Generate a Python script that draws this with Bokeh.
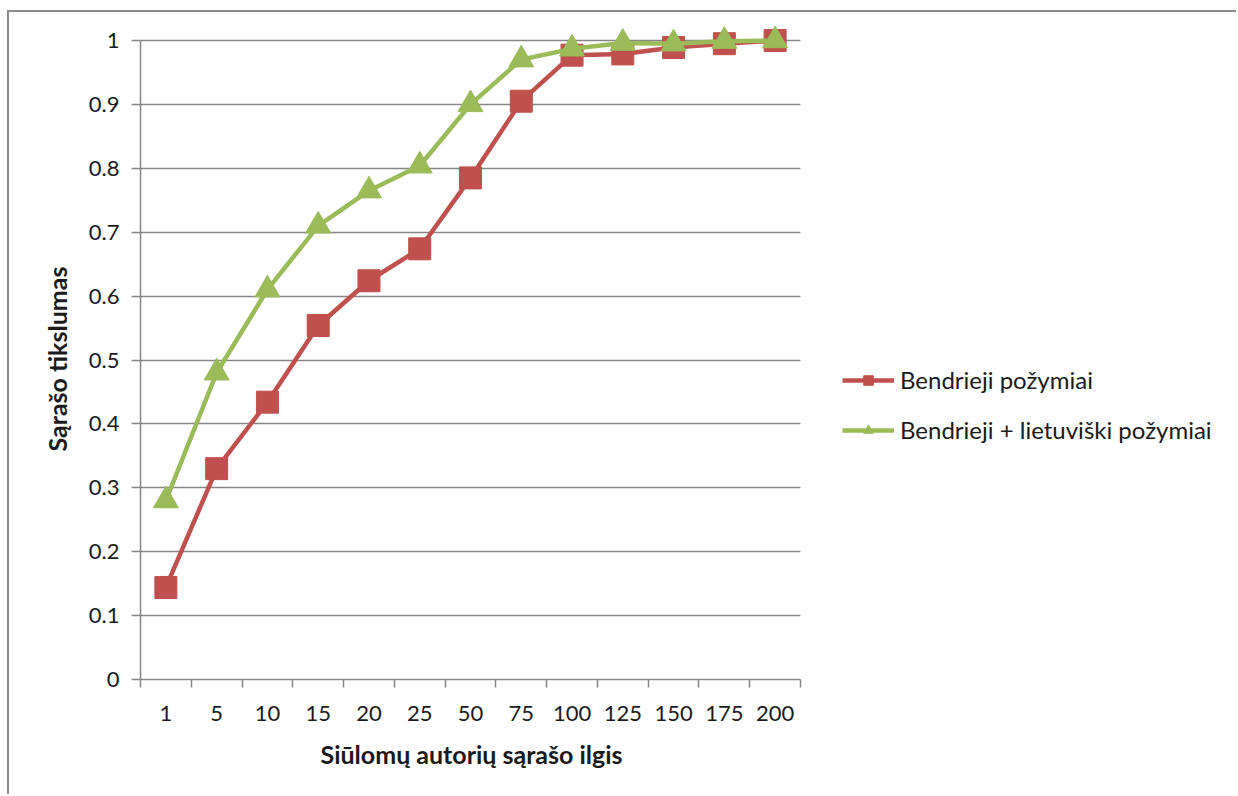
import numpy as np
from bokeh.plotting import figure
from bokeh.models import (Range1d, FixedTicker, LinearAxis, CustomJSTickFormatter,
                          Legend, LegendItem, ColumnDataSource, Grid, Title)
from bokeh.embed import file_html
from bokeh.resources import INLINE

# Suggested author list length (categories) and list accuracy per feature set
categories = ["1", "5", "10", "15", "20", "25", "50", "75", "100", "125", "150", "175", "200"]
general = [0.144, 0.330, 0.434, 0.554, 0.624, 0.674, 0.785, 0.905, 0.977, 0.979, 0.989, 0.995, 1.0]
general_lt = [0.280, 0.480, 0.610, 0.710, 0.765, 0.804, 0.900, 0.970, 0.987, 0.996, 0.995, 0.999, 1.0]
y_ticks = [0, 0.1, 0.2, 0.3, 0.4, 0.5, 0.6, 0.7, 0.8, 0.9, 1]

series_names = ["Bendrieji požymiai", "Bendrieji + lietuviški požymiai"]
x_title = "Siūlomų autorių sąrašo ilgis"
y_title = "Sąrašo tikslumas"
RED = "#C0504D"
GREEN = "#9BBB59"
GRAY = "#868686"
TEXT = "#1a1a1a"
FONT = "Lato"

n = len(categories)
centers = list(np.arange(n) + 0.5)
bounds = list(np.arange(n + 1).astype(float))

# canvas geometry (pixels inside the chart border)
CANVAS_W, CANVAS_H = 1229, 784
LEFT, TOP, BOTTOM = 131, 2, 117
AXIS_W, AXIS_H = 660, 639            # size of the 13-category x 0..1 axis area
frame_w = CANVAS_W - LEFT
frame_h = CANVAS_H - TOP - BOTTOM

src = ColumnDataSource(dict(x=centers, a=general, b=general_lt))

p = figure(width=CANVAS_W, height=CANVAS_H, output_backend="svg", toolbar_location=None,
           x_range=Range1d(0, n * frame_w / AXIS_W), y_range=Range1d(0, frame_h / AXIS_H),
           x_axis_type=None, y_axis_type=None,
           min_border_left=LEFT, min_border_right=0,
           min_border_top=TOP, min_border_bottom=BOTTOM)
p.outline_line_color = None
p.background_fill_color = "white"
p.border_fill_color = "white"
p.margin = (10, 0, 0, 7)
p.styles = {"border-top": "2px solid #8C8C8C", "border-left": "2px solid #8C8C8C"}

# y axis
yax = LinearAxis(ticker=FixedTicker(ticks=y_ticks), bounds=(0, 1),
                 formatter=CustomJSTickFormatter(code="return String(Math.round(tick*10)/10)"))
yax.major_label_text_font = FONT
yax.major_label_text_font_size = "22px"
yax.major_label_text_color = TEXT
yax.major_label_standoff = 12
yax.axis_line_color = GRAY
yax.axis_line_width = 1.5
yax.major_tick_line_color = GRAY
yax.major_tick_line_width = 1.5
yax.major_tick_in = 0
yax.major_tick_out = 9
yax.minor_tick_line_color = None
p.add_layout(yax, "left")

# x axis: labels at category centres, ticks on category boundaries
xax = LinearAxis(ticker=FixedTicker(ticks=centers, minor_ticks=bounds), bounds=(0, n),
                 major_label_overrides={float(c): lab for c, lab in zip(centers, categories)})
xax.major_label_text_font = FONT
xax.major_label_text_font_size = "22px"
xax.major_label_text_color = TEXT
xax.major_label_standoff = 18
xax.axis_line_color = GRAY
xax.axis_line_width = 1.5
xax.major_tick_line_color = None
xax.major_tick_in = 0
xax.major_tick_out = 0
xax.minor_tick_line_color = GRAY
xax.minor_tick_line_width = 1.5
xax.minor_tick_in = 0
xax.minor_tick_out = 8
p.add_layout(xax, "below")

# axis titles, centred on the category / 0..1 area
xt = Title(text=x_title, align="left", offset=180, standoff=26,
           text_font=FONT, text_font_size="25px", text_font_style="bold", text_color=TEXT)
p.add_layout(xt, "below")
yt = Title(text=y_title, align="left", offset=228, standoff=28,
           text_font=FONT, text_font_size="25px", text_font_style="bold", text_color=TEXT)
p.add_layout(yt, "left")

# horizontal gridlines across the category area only
grid = Grid(dimension=1, ticker=FixedTicker(ticks=y_ticks), bounds=(0, 1), cross_bounds=(0, n))
grid.grid_line_color = GRAY
grid.grid_line_width = 1.5
p.add_layout(grid)

l1 = p.line("x", "a", source=src, line_color=RED, line_width=4.5)
m1 = p.scatter("x", "a", source=src, marker="square", size=22, fill_color=RED, line_color=RED)
l2 = p.line("x", "b", source=src, line_color=GREEN, line_width=4.5)
m2 = p.scatter("x", "b", source=src, marker="triangle", size=25, fill_color=GREEN, line_color=GREEN)

legend = Legend(items=[LegendItem(label=series_names[0], renderers=[l1, m1]),
                       LegendItem(label=series_names[1], renderers=[l2, m2])],
                location=(702, 235), orientation="vertical")
legend.border_line_color = None
legend.background_fill_alpha = 0
legend.padding = 0
legend.margin = 0
legend.spacing = 21
legend.glyph_width = 52
legend.glyph_height = 24
legend.label_standoff = 6
legend.label_text_font = FONT
legend.label_text_font_size = "24px"
legend.label_text_color = TEXT
legend.label_height = 24
p.add_layout(legend, "center")

open("out.html", "w").write(file_html(p, INLINE))
